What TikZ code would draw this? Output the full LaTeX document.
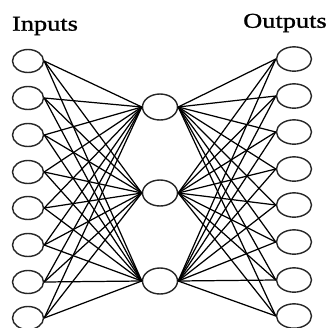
\documentclass[tikz,border=0pt]{standalone}
\usepackage{fontspec}
\setmainfont{Liberation Serif}
\newfontfamily\labelfont[FakeStretch=1.25,FakeBold=1.2]{Liberation Serif}
\usetikzlibrary{shapes}

\begin{document}
\begin{tikzpicture}[x=0.03cm,y=-0.03cm]
	\tikzstyle{unit} = [ellipse, draw=black!85, line width=1.2pt, inner sep=0pt]
	\tikzstyle{IN} = [unit, minimum width=0.93cm, minimum height=0.69cm]
	\tikzstyle{HID} = [unit, minimum width=1.05cm, minimum height=0.78cm]
	\tikzstyle{OUT} = [unit, minimum width=1.05cm, minimum height=0.73cm]
	\tikzstyle{label} = [font=\labelfont\fontsize{18}{20}\selectfont, inner sep=0pt]
	\tikzstyle{wire} = [line width=1.05pt, draw=black]

	\useasboundingbox (0,0) rectangle (330,327);

	\node[label] (InLabel)  at (45,26)  {Inputs};
	\node[label] (OutLabel) at (285,23) {Outputs};

	\node[IN] (In1) at (28,61)  {};
	\node[IN] (In2) at (28,98)  {};
	\node[IN] (In3) at (28,135) {};
	\node[IN] (In4) at (28,172) {};
	\node[IN] (In5) at (28,208) {};
	\node[IN] (In6) at (28,245) {};
	\node[IN] (In7) at (28,282) {};
	\node[IN] (In8) at (28,318) {};

	\node[HID] (Hid1) at (160,107) {};
	\node[HID] (Hid2) at (160,193) {};
	\node[HID] (Hid3) at (160,281) {};

	\node[OUT] (Out1) at (294,59)  {};
	\node[OUT] (Out2) at (294,96)  {};
	\node[OUT] (Out3) at (294,132) {};
	\node[OUT] (Out4) at (294,169) {};
	\node[OUT] (Out5) at (294,205) {};
	\node[OUT] (Out6) at (294,242) {};
	\node[OUT] (Out7) at (294,280) {};
	\node[OUT] (Out8) at (294,316) {};

	\foreach \i in {1,...,8}
		\foreach \j in {1,2,3} {
			\draw[wire] (In\i.east) -- (Hid\j.west);
			\draw[wire] (Hid\j.east) -- (Out\i.west);
		}
\end{tikzpicture}
\end{document}
